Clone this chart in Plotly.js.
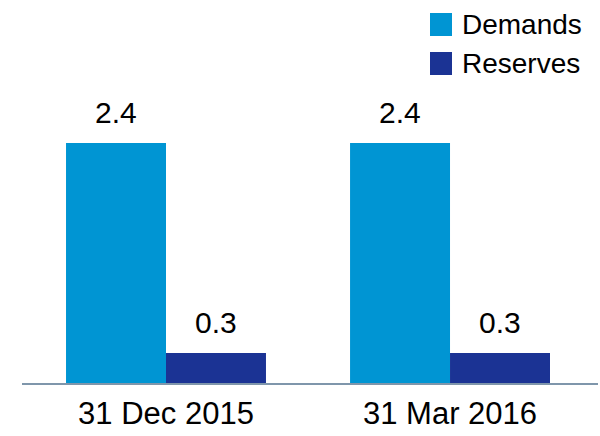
<!DOCTYPE html>
<html>
<head>
<meta charset="utf-8">
<script src="https://cdn.plot.ly/plotly-3.0.1.min.js"></script>
<style>html,body{margin:0;padding:0;background:#fff;}#chart{width:600px;height:436px;}</style>
</head>
<body>
<div id="chart"></div>
<script>
const categories = ["31 Dec 2015", "31 Mar 2016"];
const demands = [2.4, 2.4];
const reserves = [0.3, 0.3];
const seriesNames = ["Demands", "Reserves"];
const seriesColors = ["#0095d3", "#1b3394"];

const FONT = "Arial, 'Liberation Sans', sans-serif";
const W = 600, H = 436, ML = 22, MR = 2, MT = 53, MB = 53;
const plotW = W - ML - MR, plotH = H - MT - MB;
const px = x => (x - ML) / plotW;
const py = y => (H - MB - y) / plotH;

const seriesValues = [demands, reserves];
const traces = seriesValues.map((vals, i) => ({
  type: "bar",
  x: categories,
  y: vals,
  name: seriesNames[i],
  marker: {color: seriesColors[i]},
  cliponaxis: false,
  hoverinfo: "skip"
}));

const shapes = [], annotations = [];
seriesNames.forEach((n, i) => {
  const top = 13 + i * 39;
  shapes.push({type: "rect", xref: "paper", yref: "paper",
    x0: px(430), x1: px(452), y0: py(top + 23), y1: py(top),
    fillcolor: seriesColors[i], line: {width: 0}});
  annotations.push({xref: "paper", yref: "paper", x: px(460), y: py(top + 11.5),
    xanchor: "left", yanchor: "middle", text: n, showarrow: false,
    font: {family: FONT, size: 28, color: "#000"}});
});
// value labels
seriesValues.forEach((vals, i) => {
  vals.forEach((v, j) => {
    annotations.push({xref: "x", yref: "y", x: categories[j], y: v,
      xshift: i === 0 ? -50 : 50, yshift: 12, xanchor: "center", yanchor: "bottom",
      text: v.toFixed(1), showarrow: false,
      font: {family: FONT, size: 30, color: "#000"}});
  });
});

const layout = {
  width: W, height: H,
  margin: {l: ML, r: MR, t: MT, b: MB, pad: 0},
  paper_bgcolor: "#fff", plot_bgcolor: "#fff",
  showlegend: false,
  barmode: "group",
  bargap: 0.296,
  bargroupgap: 0,
  font: {family: FONT, size: 31, color: "#000"},
  xaxis: {showline: true, linecolor: "#7f96ab", linewidth: 2, ticks: "",
    range: [-0.507, 1.521], ticklabelstandoff: 2,
    showgrid: false, zeroline: false, tickfont: {family: FONT, size: 31, color: "#000"},
    fixedrange: true},
  yaxis: {visible: false, range: [0, 3.3], showgrid: false, zeroline: false, fixedrange: true},
  shapes: shapes,
  annotations: annotations
};

Plotly.newPlot("chart", traces, layout, {displayModeBar: false, staticPlot: true});
</script>
</body>
</html>
